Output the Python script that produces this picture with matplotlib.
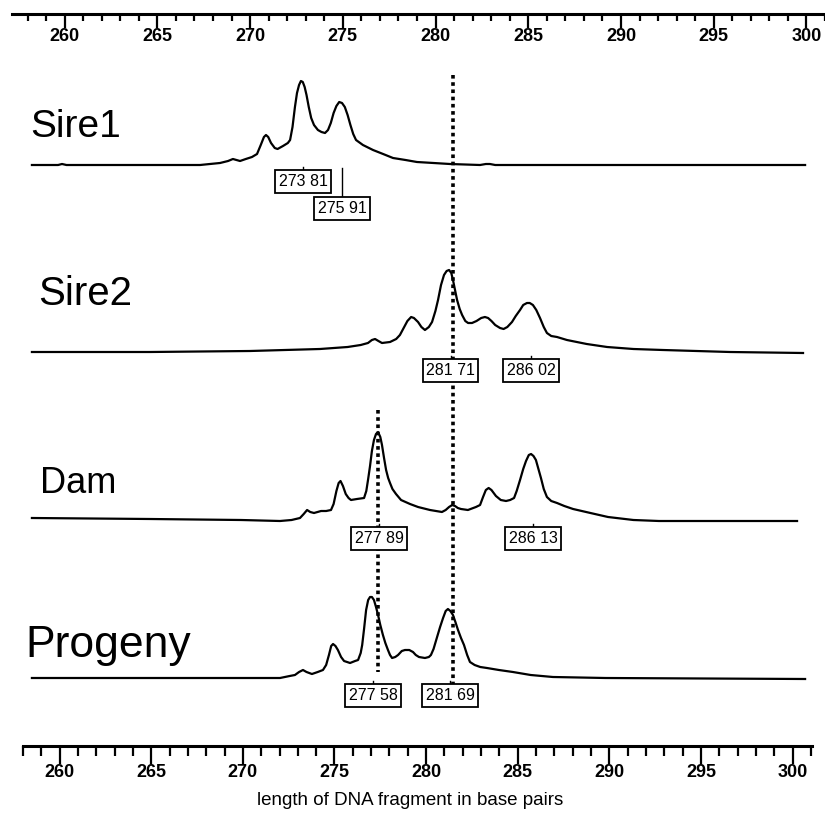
import matplotlib
matplotlib.use("Agg")
import matplotlib.pyplot as plt
import numpy as np

# trace samples: fragment length (bp) and signal height
sire1_bp = [259.30, 260.70, 260.91, 261.15, 268.30, 268.83, 269.37, 269.80, 270.06, 270.25,
            270.44, 270.75, 271.08, 271.35, 271.55, 271.72, 271.83, 271.95, 272.10, 272.30,
            272.45, 272.74, 273.00, 273.12, 273.25, 273.38, 273.49, 273.60, 273.70, 273.80,
            273.90, 274.00, 274.12, 274.25, 274.40, 274.61, 274.80, 274.99, 275.15, 275.30,
            275.45, 275.60, 275.75, 275.90, 276.05, 276.20, 276.35, 276.50, 276.65, 277.02,
            277.56, 278.10, 278.63, 279.30, 279.91, 280.80, 281.68, 283.29, 283.60, 283.82,
            284.10, 300.69]
sire1_sig = [0, 0, 1, 0, 0, 1, 2, 4, 6, 5,
             4, 6, 8, 11, 20, 28, 30, 28, 22, 17,
             16, 19, 22, 25, 38, 58, 72, 80, 84, 83,
             78, 70, 58, 47, 40, 35, 33, 32, 35, 42,
             52, 59, 63, 62, 58, 50, 40, 31, 25, 20,
             15, 11, 7, 5, 3, 2, 1, 0, 1, 1,
             0, 0]

sire2_bp = [259.30, 265.62, 270.97, 274.72, 276.20, 276.90, 277.29, 277.50, 277.67, 277.85,
            278.04, 278.47, 278.80, 279.00, 279.20, 279.40, 279.60, 279.75, 279.97, 280.15,
            280.34, 280.55, 280.72, 280.90, 281.04, 281.20, 281.36, 281.50, 281.63, 281.75,
            281.84, 281.95, 282.06, 282.20, 282.33, 282.50, 282.65, 282.86, 283.10, 283.35,
            283.55, 283.72, 283.90, 284.10, 284.36, 284.55, 284.75, 285.00, 285.20, 285.43,
            285.60, 285.80, 285.95, 286.12, 286.30, 286.50, 286.70, 286.87, 287.10, 287.41,
            287.94, 289.00, 290.09, 291.50, 293.08, 296.67, 300.58]
sire2_sig = [1, 1, 2, 4, 6, 8, 10, 13, 14, 12,
             10, 11, 14, 18, 25, 32, 36, 35, 31, 26,
             23, 26, 31, 42, 53, 68, 78, 82, 83, 80,
             73, 63, 53, 44, 38, 32, 30, 30, 32, 35,
             36, 35, 32, 28, 25, 24, 26, 31, 37, 43,
             48, 50, 50, 48, 43, 35, 26, 20, 17, 16,
             13, 9, 6, 4, 3, 1, 0]

dam_bp = [259.30, 265.62, 270.50, 272.58, 273.20, 273.65, 273.85, 274.03, 274.20, 274.40,
          274.78, 275.05, 275.31, 275.45, 275.60, 275.72, 275.82, 275.95, 276.10, 276.25,
          276.38, 276.70, 277.08, 277.20, 277.30, 277.40, 277.50, 277.61, 277.72, 277.83,
          277.95, 278.04, 278.15, 278.26, 278.37, 278.47, 278.60, 278.79, 279.06, 279.54,
          279.97, 280.61, 281.25, 281.45, 281.63, 281.80, 281.95, 282.10, 282.27, 282.64,
          283.07, 283.29, 283.45, 283.60, 283.75, 283.90, 284.14, 284.40, 284.68, 284.90,
          285.11, 285.25, 285.43, 285.60, 285.75, 285.90, 286.02, 286.15, 286.28, 286.40,
          286.55, 286.70, 286.87, 287.10, 287.41, 287.80, 288.27, 289.20, 290.14, 291.50,
          292.87, 300.26]
dam_sig = [3, 2, 1, 0, 1, 3, 7, 11, 9, 8,
           10, 10, 11, 17, 30, 38, 40, 35, 27, 23,
           21, 22, 23, 30, 42, 55, 70, 81, 87, 89,
           84, 76, 63, 51, 43, 38, 32, 27, 21, 17,
           14, 11, 9, 11, 14, 16, 15, 13, 12, 11,
           14, 16, 24, 31, 33, 31, 25, 21, 20, 21,
           23, 30, 41, 52, 60, 66, 67, 65, 61, 53,
           43, 32, 24, 20, 18, 15, 12, 8, 4, 1,
           0, 0]

prog_bp = [259.30, 268.30, 272.58, 273.10, 273.38, 273.60, 273.81, 274.00, 274.29, 274.60,
           274.88, 275.05, 275.20, 275.32, 275.42, 275.55, 275.68, 275.85, 276.01, 276.33,
           276.60, 276.76, 276.90, 276.98, 277.08, 277.19, 277.30, 277.40, 277.50, 277.61,
           277.72, 277.83, 277.95, 278.09, 278.22, 278.36, 278.47, 278.58, 278.75, 278.90,
           279.10, 279.27, 279.50, 279.70, 279.85, 280.02, 280.34, 280.55, 280.66, 280.80,
           280.99, 281.15, 281.31, 281.45, 281.57, 281.70, 281.84, 281.97, 282.11, 282.27,
           282.43, 282.60, 282.75, 283.00, 283.30, 283.66, 284.30, 285.05, 286.00, 287.19,
           290.00, 300.69]
prog_sig = [1, 1, 1, 3, 4, 7, 9, 7, 5, 7,
            9, 14, 24, 33, 35, 33, 29, 22, 18, 16,
            18, 19, 26, 34, 50, 69, 79, 82, 82, 79,
            72, 64, 54, 44, 36, 29, 24, 21, 22, 24,
            28, 29, 29, 27, 24, 22, 21, 22, 24, 30,
            42, 52, 61, 68, 70, 68, 64, 57, 49, 41,
            34, 24, 17, 14, 12, 11, 9, 7, 4, 2,
            1, 0]

sample_names = ["Sire1", "Sire2", "Dam", "Progeny"]

# called peaks (label text as printed, position)
sire1_calls = [("273 81", 273.81), ("275 91", 275.91)]
sire2_calls = [("281 71", 281.71), ("286 02", 286.02)]
dam_calls = [("277 89", 277.89), ("286 13", 286.13)]
prog_calls = [("277 58", 277.58), ("281 69", 281.69)]

shared_alleles = [281.84, 277.83]
ruler_ticks = list(range(260, 301, 5))

# ---- layout (pixels of an 825 x 813 image) ----
W, H = 825, 813
PX_BP = 18.68


def bp_at(px, x260):
    return 260 + (px - x260) / PX_BP


fig = plt.figure(figsize=(W / 100, H / 100), dpi=100)
ax = fig.add_axes([0, 0, 1, 1])
ax.set_xlim(bp_at(0, 45), bp_at(W, 45))
ax.set_ylim(H, 0)
ax.axis("off")

traces = [(sire1_bp, sire1_sig), (sire2_bp, sire2_sig), (dam_bp, dam_sig), (prog_bp, prog_sig)]
calls = [sire1_calls, sire2_calls, dam_calls, prog_calls]
baselines = [165, 353, 521, 679]
name_pos = [(30, 137), (38, 305), (40, 493), (25, 657)]
name_size = [28, 29, 26, 32]
box_top = [[171, 198], [360, 360], [528, 528], [685, 685]]

sans = ["Liberation Sans", "DejaVu Sans"]
box_font = dict(family=sans, fontsize=11.5, color="black")

for (xs, sig), base, (nx, ny), name, fs, cl, tops in zip(traces, baselines, name_pos, sample_names,
                                                       name_size, calls, box_top):
    ax.plot(xs, base - np.array(sig), color="black", lw=1.6, solid_joinstyle="round")
    ax.text(bp_at(nx, 45), ny, name, ha="left", va="baseline", family=sans, fontsize=fs)
    for (txt, pos), top in zip(cl, tops):
        ax.text(pos, top + 3, txt, ha="center", va="top", **box_font,
                bbox=dict(boxstyle="square,pad=0.22", fc="white", ec="black", lw=1.3))
        ax.plot([pos, pos], [top - 4 if top - base < 15 else base + 3, top], color="black", lw=1)

# dotted lines through the shared alleles
ax.plot([shared_alleles[0]] * 2, [75, 690], color="black", lw=2.6, ls=(0, (1, 1)))
ax.plot([shared_alleles[1]] * 2, [410, 672], color="black", lw=2.6, ls=(0, (1, 1)))

tick_font = dict(family=["Liberation Sans Narrow", "Liberation Sans", "DejaVu Sans"],
                 fontsize=13, fontweight="bold")


def ruler(x0, x1, y, x260, major_len, minor_len):
    r = fig.add_axes([x0 / W, 1 - y / H, (x1 - x0) / W, 0.001])
    r.set_xlim(bp_at(x0, x260), bp_at(x1, x260))
    for s in ["top", "left", "right"]:
        r.spines[s].set_visible(False)
    r.spines["bottom"].set_linewidth(2.2)
    r.patch.set_alpha(0)
    r.set_yticks([])
    r.set_xticks(ruler_ticks)
    r.set_xticks(range(258, 302), minor=True)
    r.tick_params(axis="x", which="major", direction="out", length=major_len, width=1.6, pad=0)
    r.tick_params(axis="x", which="minor", direction="out", length=minor_len, width=1.6)
    r.set_xticklabels([str(t) for t in ruler_ticks], **tick_font)
    return r


ruler(12, W, 14, 65, 10, 5)
ruler(23, 812, 746, 45, 13, 7)
fig.text(410 / W, 1 - 800 / H, "length of DNA fragment in base pairs", ha="center", va="center",
         family=sans, fontsize=13.5)

fig.savefig("out.png", dpi=100, facecolor="white")
